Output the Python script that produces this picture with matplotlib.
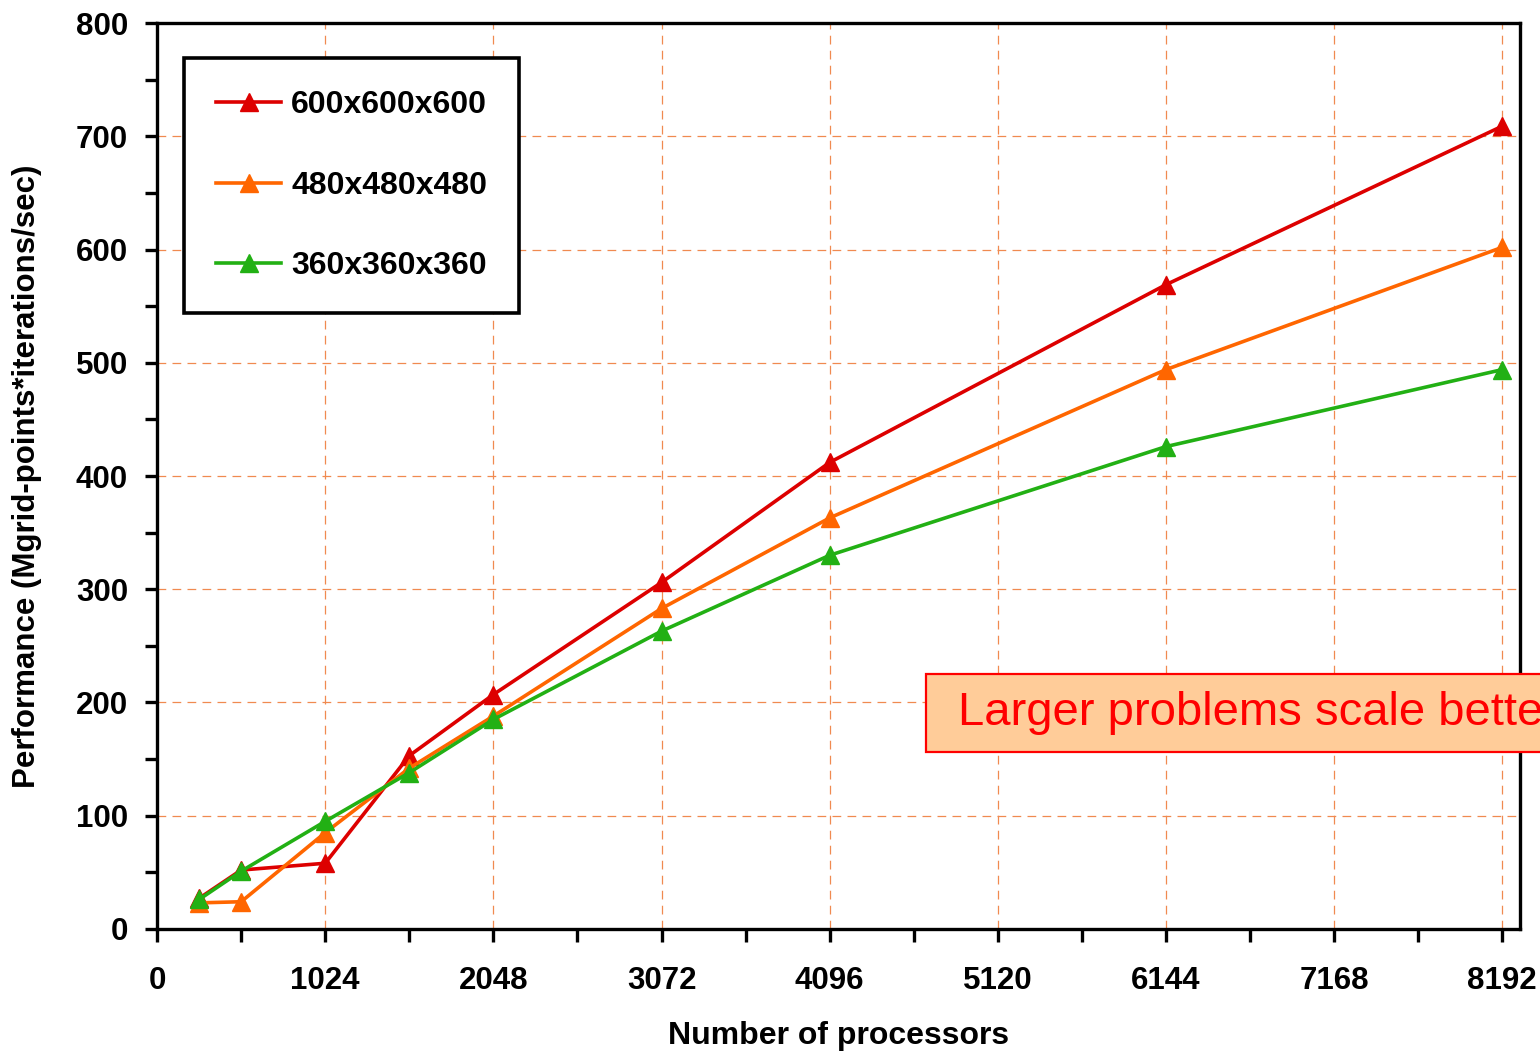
import matplotlib
matplotlib.use("Agg")
from matplotlib import pyplot as plt
from matplotlib.ticker import MultipleLocator
from matplotlib.patches import Rectangle

plt.rcParams['font.family'] = ['Liberation Sans', 'DejaVu Sans']

procs = [256, 512, 1024, 1536, 2048, 3072, 4096, 6144, 8192]
perf_600 = [27, 52, 58, 153, 207, 306, 412, 569, 709]
perf_480 = [23, 24, 85, 142, 188, 283, 363, 494, 602]
perf_360 = [26, 51, 95, 138, 185, 263, 330, 426, 494]

series = [
    ("600x600x600", perf_600, "#DD0000"),
    ("480x480x480", perf_480, "#FF6600"),
    ("360x360x360", perf_360, "#22B014"),
]

fig = plt.figure(figsize=(15.4, 10.52), dpi=100)
ax = fig.add_axes([0.102, 0.117, 0.885, 0.861])

for name, vals, col in series:
    ax.plot(procs, vals, color=col, lw=2.6, marker='^', ms=13,
            markeredgecolor=col, label=name, zorder=3)

ax.set_xlim(0, 8300)
ax.set_ylim(0, 800)
ax.xaxis.set_major_locator(MultipleLocator(1024))
ax.xaxis.set_minor_locator(MultipleLocator(512))
ax.yaxis.set_major_locator(MultipleLocator(100))
ax.yaxis.set_minor_locator(MultipleLocator(50))

ax.grid(True, which='major', ls=(0, (7, 5)), color='#F08A50', lw=0.9, zorder=0)
ax.tick_params(which='both', direction='out', length=9, width=2.4, colors='black')
ax.tick_params(labelsize=22.5)
ax.tick_params(axis='x', pad=18)
ax.tick_params(axis='y', pad=12)
for lab in ax.get_xticklabels() + ax.get_yticklabels():
    lab.set_fontweight('bold')
for sp in ax.spines.values():
    sp.set_linewidth(2.4)

ax.set_xlabel("Number of processors", fontsize=23, fontweight='bold', labelpad=17.5)
ax.set_ylabel("Performance (Mgrid-points*iterations/sec)", fontsize=22.5,
              fontweight='bold', labelpad=24)

leg = ax.legend(loc='upper left', bbox_to_anchor=(0.0198, 0.961),
                prop={'weight': 'bold', 'size': 23}, frameon=True, fancybox=False,
                framealpha=1, edgecolor='black', borderpad=1.0, labelspacing=1.58,
                handlelength=2.05, handletextpad=0.3, borderaxespad=0)
leg.get_frame().set_linewidth(2.6)

# note box runs past the right edge of the figure
ax.add_patch(Rectangle((0.564, 0.1954), 0.5, 0.0861, transform=ax.transAxes,
                       fc='#FFCC99', ec='#FF0000', lw=1.6, clip_on=False, zorder=5))
ax.text(0.5875, 0.2385, "Larger problems scale better", transform=ax.transAxes,
        fontsize=34, color='#FF0000', va='center', ha='left', zorder=6,
        family=['Liberation Sans Narrow', 'Liberation Sans'])

fig.savefig("out.png", dpi=100)
